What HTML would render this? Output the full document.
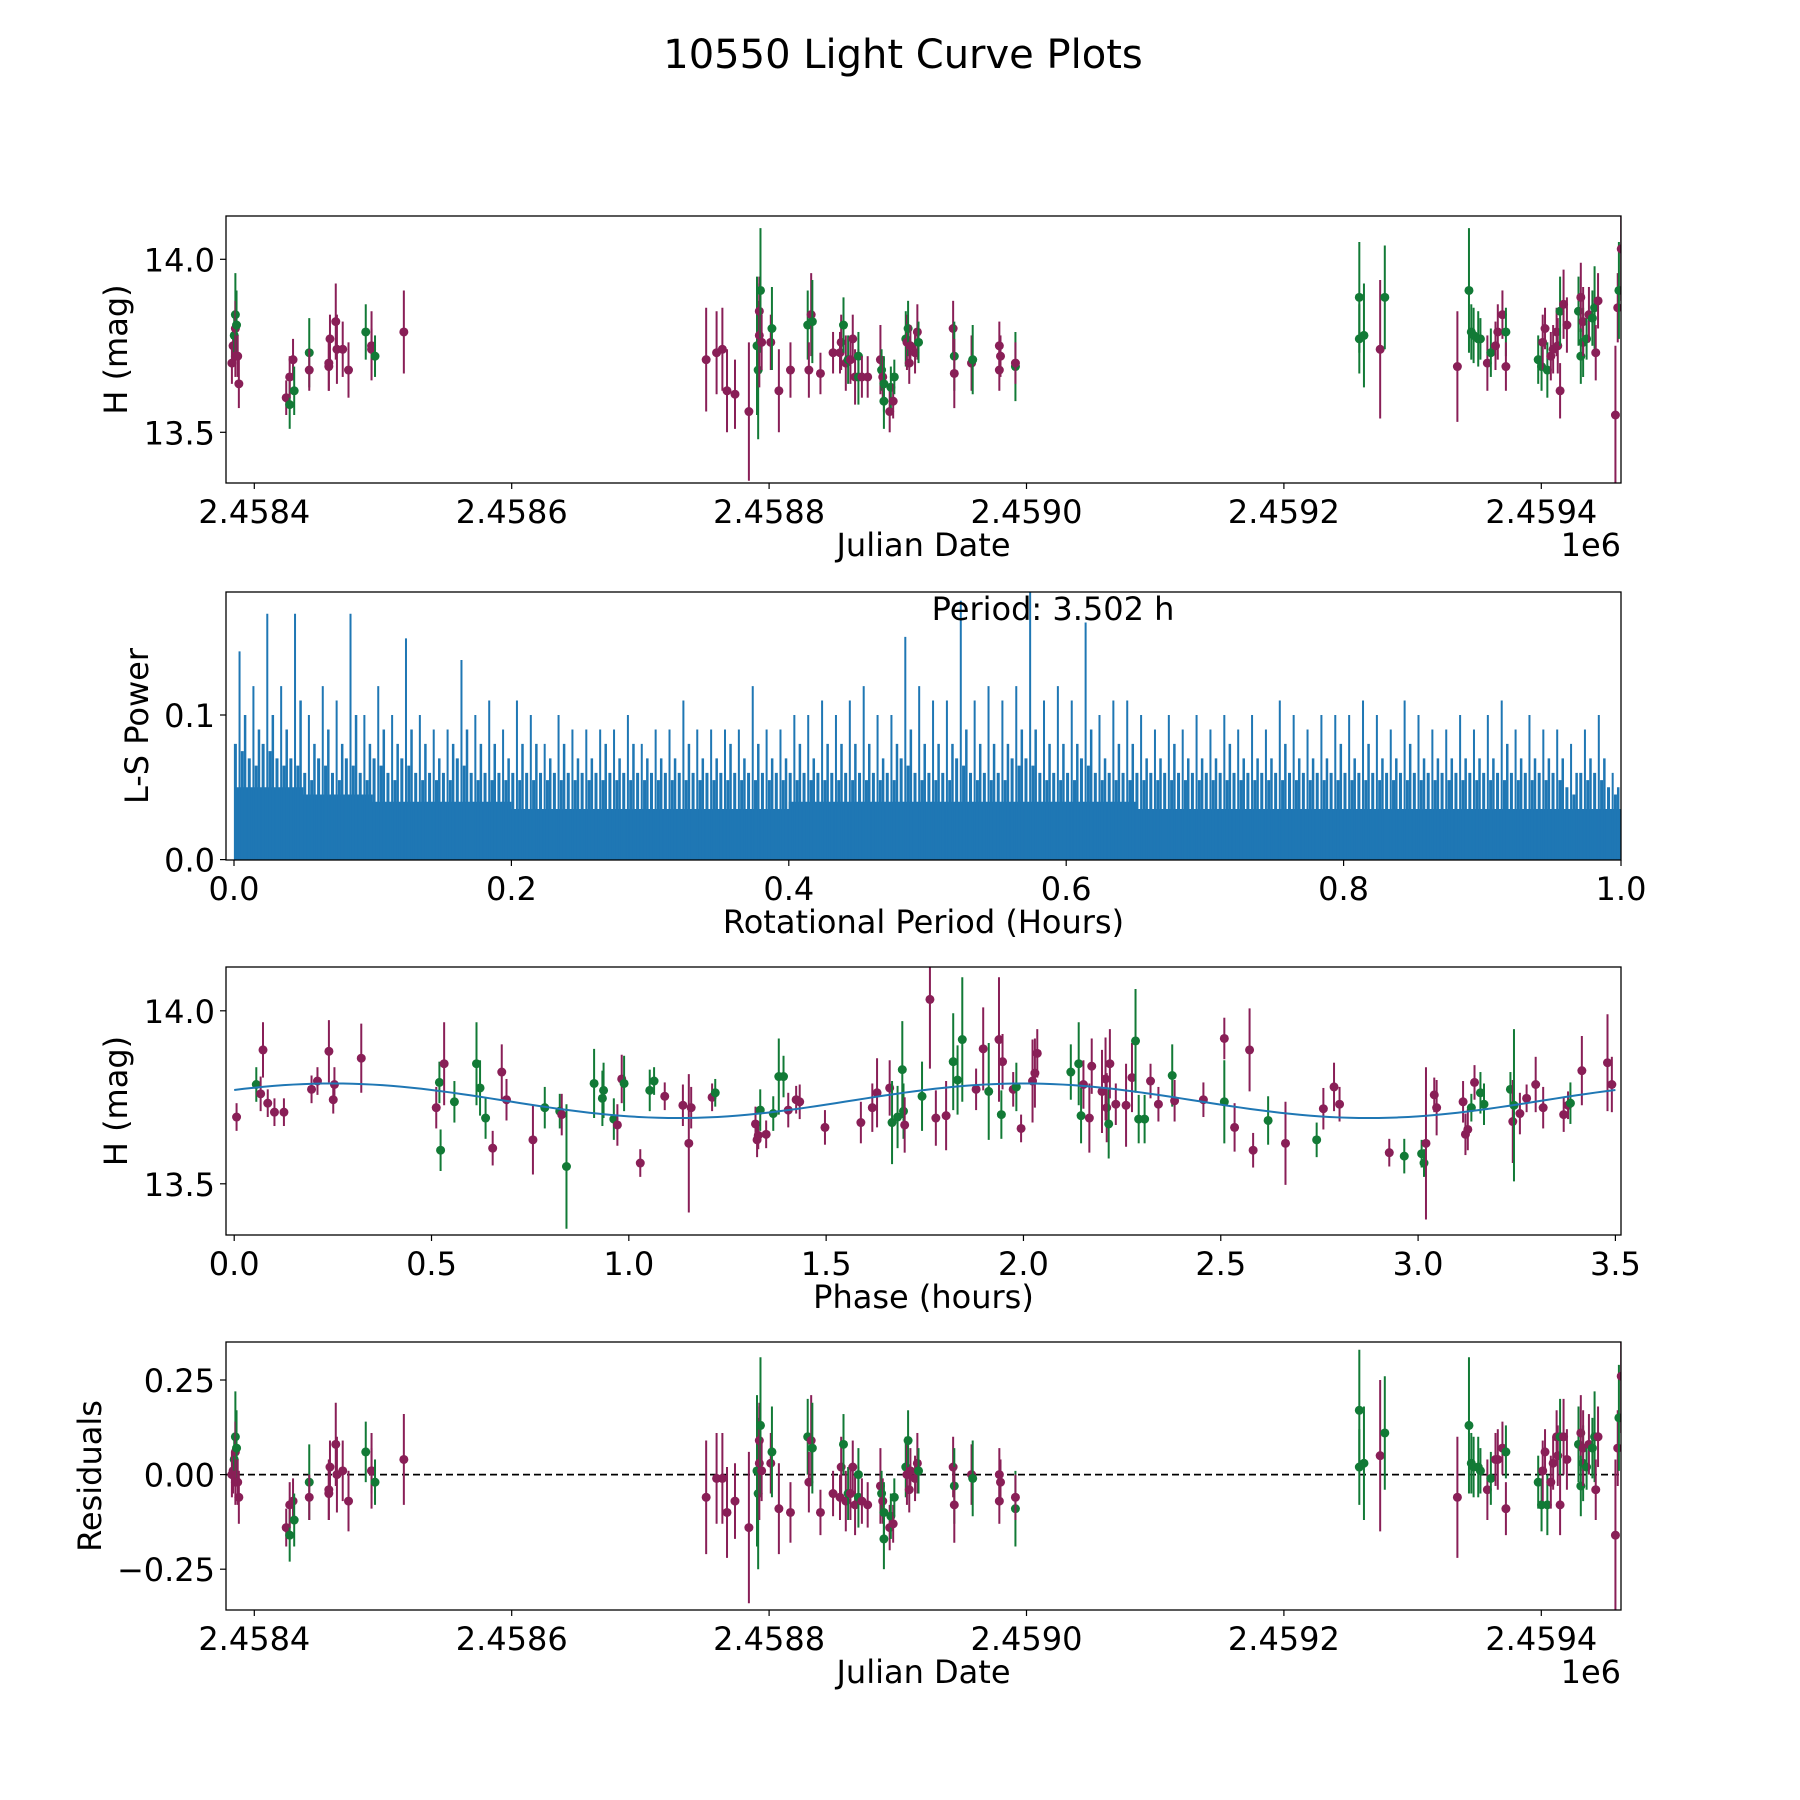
<!DOCTYPE html>
<html><head><meta charset="utf-8"><style>
html,body{margin:0;padding:0;background:#fff}
svg{display:block;font-family:"DejaVu Sans","Liberation Sans",sans-serif}
</style></head><body>
<svg id="fig" width="1800" height="1800" viewBox="0 0 1800 1800">
<text x="903" y="68" font-size="40" text-anchor="middle">10550 Light Curve Plots</text>
</svg>
<script>
// ---------- data ----------
const jdTicks=[0,200,400,600,800,1000];
const jdTickLabels=["2.4584","2.4586","2.4588","2.4590","2.4592","2.4594"];
const magTicks=[13.5,14.0];
const magTickLabels=["13.5","14.0"];
const lcDays=[-16.5,-15.6,-14.7,-14.7,-13.8,-14.7,-12.9,-12.0,-17.4,24.8,27.5,27.5,30.1,31.0,42.7,42.7,57.9,58.8,57.9,63.3,64.2,68.7,73.2,86.6,91.1,91.1,93.8,116.2,
351.1,359.2,363.7,367.3,373.5,384.3,390.6,391.5,392.4,392.4,393.3,394.2,401.3,402.2,407.6,416.6,430.0,430.9,432.7,433.6,439.9,449.7,455.1,456.0,457.8,459.6,461.4,463.2,465.0,466.8,469.4,469.4,472.1,476.6,486.5,487.4,488.3,489.2,489.2,493.7,494.6,496.4,497.3,506.2,507.1,508.0,508.9,509.8,513.4,515.2,516.1,543.0,543.9,543.9,557.3,558.2,578.9,578.9,579.8,591.4,591.4,
858.6,858.6,862.2,874.8,878.4,
934.8,943.8,945.6,947.4,951.0,952.7,958.1,960.8,964.4,966.2,969.8,972.5,972.5,997.6,1000.2,1001.1,1002.9,1004.7,1007.4,1009.2,1011.9,1012.8,1014.6,1014.6,1017.3,1019.9,1028.9,1030.7,1030.7,1032.5,1032.5,1035.2,1037.0,1039.7,1041.4,1042.3,1044.1,1057.6,1059.4,1060.3,1062.1];
const lcMag=[13.75,13.78,13.84,13.80,13.81,13.72,13.72,13.64,13.70,13.60,13.58,13.66,13.71,13.62,13.73,13.68,13.69,13.77,13.70,13.82,13.74,13.74,13.68,13.79,13.75,13.74,13.72,13.79,
13.71,13.73,13.74,13.62,13.61,13.56,13.75,13.68,13.78,13.85,13.91,13.76,13.76,13.80,13.62,13.68,13.81,13.68,13.84,13.82,13.67,13.73,13.73,13.76,13.81,13.70,13.71,13.71,13.77,13.66,13.66,13.72,13.66,13.66,13.71,13.68,13.66,13.64,13.59,13.56,13.63,13.59,13.66,13.77,13.76,13.80,13.70,13.75,13.73,13.79,13.76,13.80,13.72,13.67,13.70,13.71,13.75,13.68,13.72,13.69,13.70,
13.89,13.77,13.78,13.74,13.89,
13.69,13.91,13.79,13.78,13.77,13.77,13.70,13.73,13.75,13.79,13.84,13.79,13.69,13.71,13.69,13.76,13.80,13.68,13.72,13.74,13.79,13.75,13.62,13.85,13.87,13.81,13.85,13.89,13.72,13.76,13.82,13.77,13.84,13.83,13.86,13.73,13.88,13.55,13.86,13.91,14.03];
const lcColor="pggpgpppppgppggppppppppgppgpppppppggppgppgppgppgppppgpgpppggpppgpggpgpggpgppppgpgppgpppgpgggpgpgggggpgpppgpggppgpppppgppgpggpgpggppppgp";
const lcErr=[0.06,0.06,0.12,0.08,0.1,0.06,0.06,0.07,0.06,0.05,0.07,0.06,0.06,0.07,0.1,0.06,0.07,0.07,0.08,0.11,0.1,0.08,0.08,0.08,0.1,0.06,0.06,0.12,
0.15,0.12,0.12,0.12,0.1,0.2,0.2,0.2,0.15,0.1,0.18,0.08,0.08,0.12,0.12,0.08,0.1,0.08,0.12,0.12,0.06,0.06,0.06,0.08,0.08,0.08,0.07,0.07,0.07,0.08,0.08,0.07,0.06,0.06,0.1,0.06,0.06,0.08,0.08,0.06,0.06,0.05,0.05,0.08,0.08,0.08,0.06,0.06,0.06,0.08,0.06,0.08,0.1,0.1,0.08,0.1,0.07,0.06,0.06,0.1,0.06,
0.16,0.1,0.15,0.2,0.15,
0.16,0.18,0.08,0.08,0.08,0.06,0.08,0.07,0.07,0.08,0.07,0.07,0.07,0.07,0.07,0.08,0.06,0.08,0.07,0.07,0.07,0.08,0.08,0.1,0.1,0.08,0.1,0.1,0.08,0.1,0.1,0.06,0.08,0.08,0.12,0.08,0.08,0.2,0.1,0.14,0.15];
const lcResid=[0.01,0.04,0.10,0.06,0.07,-0.02,-0.02,-0.06,0.00,-0.14,-0.16,-0.08,-0.07,-0.12,-0.02,-0.06,-0.05,0.02,-0.04,0.08,0.00,0.01,-0.07,0.06,0.01,0.01,-0.02,0.04,
-0.06,-0.01,-0.01,-0.10,-0.07,-0.14,0.01,-0.05,0.03,0.09,0.13,0.01,0.03,0.06,-0.09,-0.10,0.10,-0.02,0.09,0.07,-0.10,-0.05,-0.06,0.02,0.08,-0.07,-0.05,-0.05,0.02,-0.08,-0.06,0.00,-0.07,-0.08,-0.03,-0.05,-0.07,-0.10,-0.17,-0.14,-0.11,-0.13,-0.06,0.02,0.00,0.09,-0.04,0.01,-0.01,0.03,0.01,0.02,-0.03,-0.08,0.00,-0.01,0.00,-0.07,-0.02,-0.09,-0.06,
0.17,0.02,0.03,0.05,0.11,
-0.06,0.13,0.03,0.02,0.02,0.01,-0.04,-0.01,0.04,0.04,0.07,0.06,-0.09,-0.02,-0.08,0.01,0.06,-0.08,-0.02,0.03,0.10,0.05,-0.08,0.10,0.10,0.04,0.08,0.11,-0.03,0.03,0.07,0.02,0.08,0.07,0.10,-0.04,0.10,-0.16,0.07,0.15,0.26];
const lsTicks=[0,0.2,0.4,0.6,0.8,1.0];
const lsTickLabels=["0.0","0.2","0.4","0.6","0.8","1.0"];
const powTicks=[0,0.1];
const powTickLabels=["0.0","0.1"];
const lsPeak=[0.144,0.12,0.17,0.12,0.17,0.10,0.12,0.11,0.17,0.10,0.12,0.10,0.153,0.10,0.09,0.09,0.138,0.10,0.11,0.09,0.11,0.10,0.08,0.10,0.09,0.09,0.09,0.09,0.10,0.08,0.09,0.09,0.11,0.09,0.09,0.09,0.09,0.12,0.09,0.09,0.10,0.10,0.11,0.10,0.11,0.12,0.10,0.10,0.154,0.12,0.11,0.11,0.179,0.11,0.12,0.11,0.12,0.185,0.11,0.12,0.11,0.164,0.10,0.11,0.11,0.10,0.09,0.10,0.09,0.10,0.09,0.10,0.09,0.10,0.09,0.11,0.10,0.09,0.10,0.10,0.10,0.11,0.10,0.09,0.11,0.10,0.09,0.09,0.10,0.09,0.10,0.11,0.09,0.10,0.09,0.09,0.08,0.09,0.10,0.06];
const lsSecond=[0.10,0.09,0.10,0.09,0.11,0.08,0.09,0.08,0.10,0.08,0.09,0.08,0.09,0.08,0.07,0.08,0.09,0.08,0.08,0.07,0.08,0.08,0.07,0.08,0.07,0.07,0.08,0.07,0.08,0.07,0.07,0.07,0.08,0.07,0.07,0.08,0.07,0.08,0.07,0.07,0.08,0.07,0.08,0.08,0.08,0.08,0.07,0.08,0.09,0.08,0.08,0.08,0.09,0.08,0.08,0.08,0.09,0.09,0.08,0.08,0.08,0.09,0.07,0.08,0.08,0.07,0.07,0.08,0.07,0.07,0.07,0.08,0.07,0.07,0.07,0.08,0.07,0.07,0.07,0.08,0.07,0.08,0.07,0.07,0.08,0.07,0.07,0.07,0.07,0.07,0.07,0.08,0.07,0.07,0.07,0.07,0.06,0.07,0.07,0.05];
const lsThird=[0.08,0.07,0.08,0.07,0.07,0.06,0.07,0.06,0.07,0.06,0.07,0.06,0.07,0.06,0.06,0.06,0.07,0.06,0.06,0.06,0.06,0.06,0.06,0.06,0.06,0.06,0.06,0.06,0.06,0.06,0.06,0.06,0.06,0.06,0.06,0.06,0.06,0.06,0.06,0.06,0.06,0.06,0.06,0.06,0.06,0.06,0.06,0.06,0.07,0.06,0.06,0.06,0.07,0.06,0.06,0.06,0.07,0.07,0.06,0.06,0.06,0.07,0.06,0.06,0.06,0.06,0.06,0.06,0.06,0.06,0.06,0.06,0.06,0.06,0.06,0.06,0.06,0.06,0.06,0.06,0.06,0.06,0.06,0.06,0.06,0.06,0.06,0.06,0.06,0.06,0.06,0.06,0.06,0.06,0.06,0.06,0.05,0.06,0.06,0.05];
const lsFloor=[0.05,0.045,0.04,0.04,0.035,0.035,0.035,0.035,0.04,0.04,0.04,0.04,0.04,0.035,0.035,0.035,0.035,0.035,0.035,0.035];
const phTicks=[0,0.5,1.0,1.5,2.0,2.5,3.0,3.5];
const phTickLabels=["0.0","0.5","1.0","1.5","2.0","2.5","3.0","3.5"];
const phX=[0.006,0.056,0.067,0.073,0.085,0.102,0.126,0.196,0.211,0.240,0.251,0.254,0.322,0.512,0.520,0.523,0.532,0.558,0.614,0.623,0.637,0.655,0.678,0.690,0.757,0.787,0.825,0.830,0.842,0.912,0.933,0.936,0.962,0.971,0.982,0.988,1.029,1.053,1.064,1.091,1.137,1.152,1.158,1.211,1.219,1.321,1.325,1.328,1.333,1.348,1.366,1.38,1.392,1.404,1.424,1.433,1.497,1.588,1.617,1.629,1.661,1.667,1.681,1.693,1.696,1.699,1.743,1.763,1.778,1.804,1.822,1.833,1.845,1.880,1.898,1.912,1.938,1.944,1.947,1.974,1.982,1.994,2.023,2.029,2.035,2.120,2.140,2.146,2.152,2.167,2.173,2.199,2.208,2.211,2.216,2.219,2.234,2.260,2.275,2.284,2.292,2.307,2.322,2.342,2.377,2.383,2.456,2.509,2.509,2.535,2.573,2.582,2.620,2.664,2.743,2.760,2.787,2.801,2.927,2.965,3.009,3.015,3.020,3.041,3.047,3.114,3.120,3.126,3.135,3.143,3.158,3.167,3.234,3.24,3.243,3.258,3.275,3.298,3.317,3.369,3.380,3.386,3.415,3.480,3.491];
const phMag=[13.693,13.787,13.76,13.887,13.733,13.707,13.707,13.773,13.797,13.883,13.743,13.787,13.863,13.72,13.793,13.597,13.847,13.737,13.847,13.777,13.69,13.603,13.823,13.743,13.627,13.72,13.71,13.70,13.55,13.79,13.747,13.77,13.687,13.67,13.803,13.79,13.56,13.77,13.797,13.753,13.727,13.617,13.72,13.75,13.763,13.673,13.627,13.64,13.713,13.643,13.703,13.81,13.81,13.713,13.743,13.737,13.663,13.677,13.72,13.763,13.777,13.677,13.693,13.83,13.71,13.67,13.753,14.033,13.69,13.697,13.853,13.8,13.917,13.773,13.89,13.767,13.917,13.7,13.853,13.773,13.78,13.66,13.797,13.82,13.877,13.823,13.847,13.697,13.787,13.69,13.84,13.767,13.803,13.72,13.673,13.847,13.73,13.727,13.807,13.913,13.687,13.687,13.797,13.73,13.813,13.74,13.743,13.92,13.737,13.663,13.887,13.597,13.683,13.617,13.627,13.717,13.78,13.73,13.59,13.58,13.587,13.56,13.617,13.757,13.72,13.737,13.643,13.657,13.72,13.793,13.763,13.73,13.773,13.68,13.727,13.703,13.747,13.787,13.72,13.70,13.727,13.733,13.827,13.85,13.787];
const phColor="pgppppppppppppggpggggppppggpgggggppgpggpppppgpppgpgggppppppppggggpgpppgggppgpgppgppppgggppppppgppppgggppgpppgpppgpgppppgggppppppgpgggpgppppppgpp";
const phErr=[0.04,0.05,0.05,0.08,0.04,0.04,0.04,0.04,0.04,0.09,0.04,0.05,0.1,0.06,0.06,0.06,0.12,0.06,0.12,0.08,0.06,0.05,0.08,0.06,0.1,0.06,0.05,0.06,0.18,0.1,0.08,0.08,0.06,0.06,0.07,0.08,0.04,0.06,0.04,0.04,0.06,0.2,0.06,0.04,0.04,0.05,0.05,0.04,0.06,0.04,0.05,0.11,0.06,0.05,0.04,0.05,0.05,0.06,0.07,0.1,0.08,0.12,0.09,0.14,0.08,0.08,0.1,0.2,0.08,0.1,0.14,0.1,0.18,0.06,0.12,0.14,0.18,0.07,0.08,0.05,0.07,0.04,0.12,0.1,0.07,0.08,0.12,0.08,0.07,0.1,0.08,0.12,0.12,0.1,0.1,0.1,0.06,0.12,0.1,0.15,0.07,0.07,0.05,0.05,0.09,0.06,0.05,0.06,0.12,0.07,0.12,0.05,0.07,0.12,0.05,0.06,0.07,0.05,0.04,0.05,0.04,0.04,0.22,0.05,0.08,0.06,0.06,0.06,0.04,0.05,0.06,0.06,0.05,0.12,0.22,0.06,0.04,0.08,0.06,0.05,0.04,0.06,0.1,0.14,0.08];
const modelParams=[13.74,0.05,1.75,0.25];
const resTicks=[-0.25,0,0.25];
const resTickLabels=["\u22120.25","0.00","0.25"];

// ---------- drawing ----------
const NS="http://www.w3.org/2000/svg";
const svg=document.getElementById('fig');
const PUR="#891f57", GRN="#127a36", BLUE="#1f77b4";
const FS=32;
function mk(tag,attrs,parent){const e=document.createElementNS(NS,tag);for(const k in attrs)e.setAttribute(k,attrs[k]);(parent||svg).appendChild(e);return e;}
function lin(d0,d1,p0,p1){return v=>p0+(v-d0)/(d1-d0)*(p1-p0);}
const L=226,R=1621;
function axesFrame(name,top,bot,xs,ys,xt,xtl,yt,ytl,xlabel,ylabel,offset,ylOff){
  const g=mk('g',{});
  
  
  xt.forEach((t,i)=>{const x=xs(t);
    const tk=mk('line',{x1:x,x2:x,y1:bot,y2:bot+6,stroke:'#000','stroke-width':1.2},g);
    
    
    const tl=mk('text',{x:x,y:bot+40,'font-size':FS,'text-anchor':'middle'},g);tl.textContent=xtl[i];
    
    });
  yt.forEach((t,i)=>{const y=ys(t);
    const tk=mk('line',{x1:L-6,x2:L,y1:y,y2:y,stroke:'#000','stroke-width':1.2},g);
    
    
    const tl=mk('text',{x:L-11,y:y+12,'font-size':FS,'text-anchor':'end'},g);tl.textContent=ytl[i];
    
    });
  const xl=mk('text',{x:(L+R)/2,y:bot+73,'font-size':FS,'text-anchor':'middle'},g);xl.textContent=xlabel;
  
  
  const ylx=L-ylOff, yly=(top+bot)/2;
  const yl=mk('text',{x:ylx,y:yly,'font-size':FS,'text-anchor':'middle',transform:`rotate(-90 ${ylx} ${yly})`},g);yl.textContent=ylabel;
  
  
  if(offset){const o=mk('text',{x:R,y:bot+73,'font-size':FS,'text-anchor':'end'},g);o.textContent=offset;
    
    }
  return g;
}
function frameRect(top,bot){const r=mk('rect',{x:L,y:top,width:R-L,height:bot-top,fill:'none',stroke:'#000','stroke-width':1.3});
  
  }
function clip(id,top,bot){const c=mk('clipPath',{id:id});mk('rect',{x:L,y:top,width:R-L,height:bot-top},c);}
function errPoints(gname,xsArr,ysArr,errArr,cols,xs,ys,clipId){
  const g=mk('g',{'clip-path':`url(#${clipId})`});
  
  
  xsArr.forEach((v,i)=>{const c=cols[i]==='g'?GRN:PUR;const x=xs(v);const e=errArr[i]||0.07;
    const l=mk('line',{x1:x,x2:x,y1:ys(ysArr[i]-e),y2:ys(ysArr[i]+e),stroke:c,'stroke-width':2},g);
    
    
    const p=mk('circle',{cx:x,cy:ys(ysArr[i]),r:4.5,fill:c},g);
    
    });
}
// Panel 1
const T1=216,B1=483;
const x1=lin(0,1000,254.3,1541.3), y1=lin(13.5,14.0,432.3,259.3);
clip('c1',T1,B1);
errPoints('lightcurve-points',lcDays,lcMag,lcErr,lcColor,x1,y1,'c1');
frameRect(T1,B1);
axesFrame('lightcurve-axes',T1,B1,x1,y1,jdTicks,jdTickLabels,magTicks,magTickLabels,'Julian Date','H (mag)','1e6',99);
// Panel 2
const T2=592,B2=860;
const x2=lin(0,1,234,1621), y2=lin(0,0.1,859.6,715);
clip('c2',T2,B2);
const g2=mk('g',{'clip-path':'url(#c2)'});


let fp=`M${x2(0)},${y2(0)}`;
lsFloor.forEach((v,i)=>{fp+=` L${x2(i*0.05)},${y2(v)} L${x2((i+1)*0.05)},${y2(v)}`;});
fp+=` L${x2(1)},${y2(0)} Z`;
const fl=mk('path',{d:fp,fill:BLUE},g2);


lsPeak.forEach((v,i)=>{
  const xa=x2(i*0.01+0.004);
  const s=mk('line',{x1:xa,x2:xa,y1:y2(0),y2:y2(v),stroke:BLUE,'stroke-width':2},g2);
  
  
  const xb=x2(i*0.01+0.008);
  const s2=mk('line',{x1:xb,x2:xb,y1:y2(0),y2:y2(lsSecond[i]),stroke:BLUE,'stroke-width':2.5},g2);
  
  
  const xc=x2(i*0.01+0.001);
  const s3=mk('line',{x1:xc,x2:xc,y1:y2(0),y2:y2(lsThird[i]),stroke:BLUE,'stroke-width':3},g2);
  
  
  const xd=x2(i*0.01+0.006);
  const s4=mk('line',{x1:xd,x2:xd,y1:y2(0),y2:y2(lsThird[i]-0.005),stroke:BLUE,'stroke-width':3},g2);
  
  });
frameRect(T2,B2);
axesFrame('periodogram-axes',T2,B2,x2,y2,lsTicks,lsTickLabels,powTicks,powTickLabels,'Rotational Period (Hours)','L-S Power',null,78);
const pt=mk('text',{x:1053,y:620,'font-size':FS,'text-anchor':'middle'});pt.textContent='Period: 3.502 h';


// Panel 3
const T3=967,B3=1235;
const x3=lin(0,3.5,234.2,1615.4), y3=lin(13.5,14.0,1183.8,1010.8);
clip('c3',T3,B3);
errPoints('phased-points',phX,phMag,phErr,phColor,x3,y3,'c3');
let mp='';for(let k=0;k<=140;k++){const p=k*3.5/140;const m=modelParams[0]+modelParams[1]*Math.cos(2*Math.PI*(p-modelParams[3])/modelParams[2]);mp+=(k?' L':'M')+x3(p)+','+y3(m);}
const ml=mk('path',{d:mp,fill:'none',stroke:BLUE,'stroke-width':2});


frameRect(T3,B3);
axesFrame('phased-axes',T3,B3,x3,y3,phTicks,phTickLabels,magTicks,magTickLabels,'Phase (hours)','H (mag)',null,99);
// Panel 4
const T4=1342,B4=1610;
const y4=lin(0,0.25,1474.6,1380);
clip('c4',T4,B4);
const zl=mk('line',{x1:L,x2:R,y1:y4(0),y2:y4(0),stroke:'#000','stroke-width':1.8,'stroke-dasharray':'7,4'});


errPoints('residual-points',lcDays,lcResid,lcErr,lcColor,x1,y4,'c4');
frameRect(T4,B4);
axesFrame('residual-axes',T4,B4,x1,y4,jdTicks,jdTickLabels,resTicks,resTickLabels,'Julian Date','Residuals','1e6',125);
</script>
</body></html>
